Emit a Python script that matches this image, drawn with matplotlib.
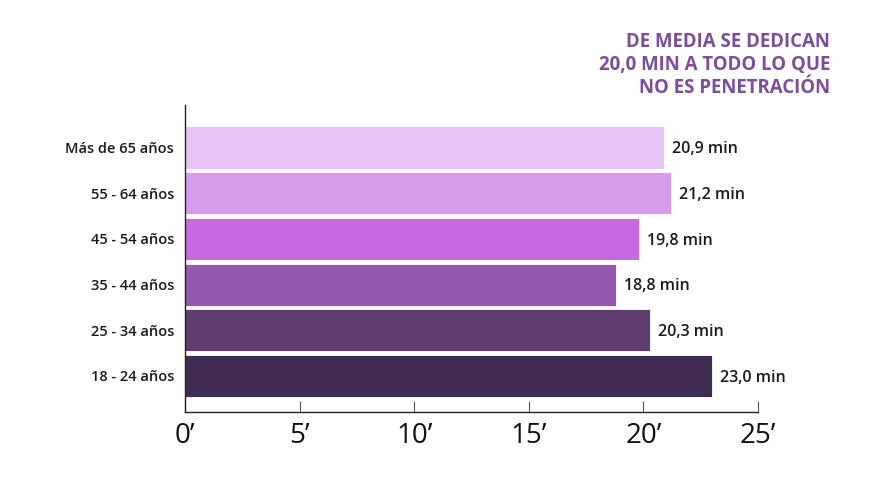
import matplotlib
matplotlib.use("Agg")
import matplotlib.pyplot as plt

# Data (bottom to top)
categories = ["18 - 24 años", "25 - 34 años", "35 - 44 años",
              "45 - 54 años", "55 - 64 años", "Más de 65 años"]
minutes = [23.0, 20.3, 18.8, 19.8, 21.2, 20.9]
value_labels = ["23,0 min", "20,3 min", "18,8 min", "19,8 min", "21,2 min", "20,9 min"]
bar_colors = ["#402c52", "#5e3d72", "#9659b0", "#c869e4", "#d79bee", "#e8c5f8"]
x_ticks = [0, 5, 10, 15, 20, 25]
x_tick_labels = ["0\u2019", "5\u2019", "10\u2019", "15\u2019", "20\u2019", "25\u2019"]
title = "DE MEDIA SE DEDICAN\n20,0 MIN A TODO LO QUE\nNO ES PENETRACIÓN"

plt.rcParams["font.family"] = ["Open Sans", "DejaVu Sans"]

fig = plt.figure(figsize=(8.7, 4.8), dpi=100)
ax = fig.add_axes([185 / 870, 1 - 412 / 480, 573 / 870, 307 / 480])

y = list(range(len(categories)))
ax.barh(y, minutes, height=0.92, color=bar_colors, edgecolor="white", linewidth=0.6)

for yi, v, lab in zip(y, minutes, value_labels):
    ax.text(v + 0.35, yi - 0.04, lab, va="center", ha="left",
            fontsize=11.5, fontweight="semibold", color="#1a1a1a")

ax.set_xlim(0, 25)
ax.set_ylim(-0.79, 5.93)
ax.set_yticks(y)
ax.set_yticklabels(categories, fontsize=10.5, fontweight="semibold", color="#1a1a1a")
ax.set_xticks(x_ticks)
ax.set_xticklabels(x_tick_labels, fontsize=20, color="#111111")

ax.tick_params(axis="y", length=0, pad=8)
ax.tick_params(axis="x", direction="in", length=8, width=0.8, color="#555555", pad=7)

for side in ["top", "right"]:
    ax.spines[side].set_visible(False)
ax.spines["left"].set_color("#222222")
ax.spines["bottom"].set_color("#222222")
ax.spines["left"].set_linewidth(1.0)
ax.spines["bottom"].set_linewidth(1.0)

fig.text(830 / 870, 1 - 32 / 480, title, ha="right", va="top",
         fontsize=13.4, fontweight="bold", color="#7b4d9a", linespacing=1.2)

fig.savefig("out.png", dpi=100)
